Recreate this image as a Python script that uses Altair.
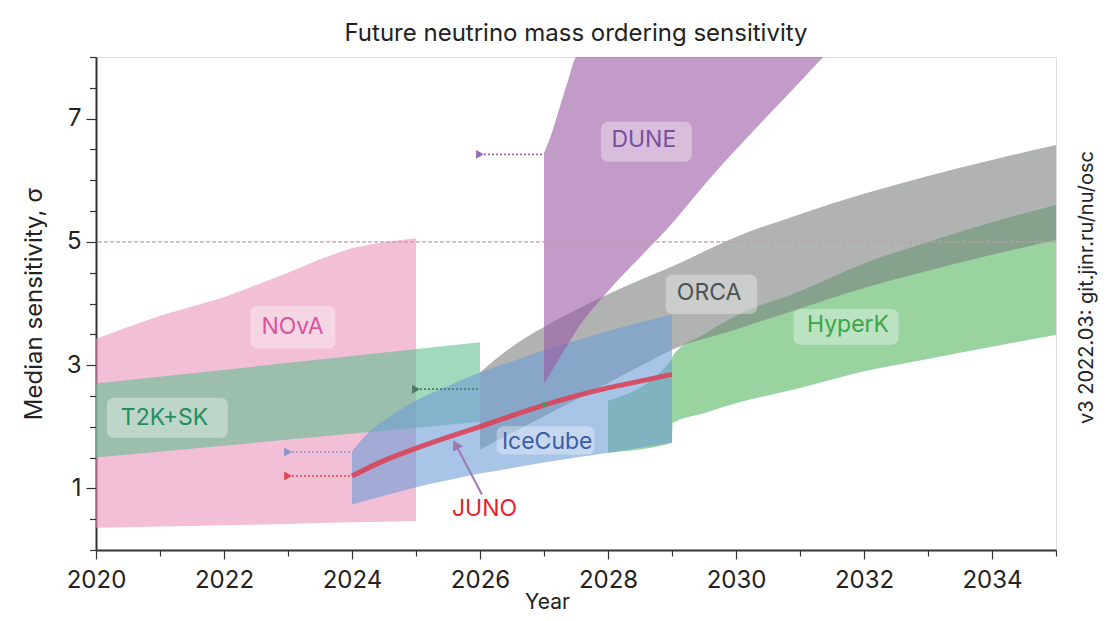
import altair as alt
import pandas as pd

# ---------------- values ----------------
nova_x = [2020, 2020.5, 2021, 2021.5, 2022, 2022.5, 2023, 2023.5, 2024, 2024.5, 2025]
nova_lo = [0.36, 0.37, 0.38, 0.39, 0.40, 0.41, 0.42, 0.44, 0.45, 0.46, 0.47]
nova_hi = [3.43, 3.62, 3.80, 3.95, 4.10, 4.30, 4.50, 4.72, 4.90, 5.00, 5.06]

t2k_x = [2020, 2026]
t2k_lo = [1.50, 2.08]
t2k_hi = [2.70, 3.37]

icecube_x = [2024, 2024.25, 2024.5, 2025, 2025.5, 2026, 2026.5, 2027, 2027.5, 2028, 2028.5, 2029]
icecube_lo = [0.74, 0.81, 0.88, 1.02, 1.13, 1.24, 1.33, 1.42, 1.50, 1.58, 1.66, 1.74]
icecube_hi = [1.60, 1.90, 2.10, 2.42, 2.66, 2.88, 3.06, 3.24, 3.40, 3.55, 3.69, 3.82]

orca_x = [2026, 2026.5, 2027, 2027.5, 2028, 2028.5, 2029, 2030, 2031, 2032, 2033, 2034, 2035]
orca_lo = [1.63, 1.90, 2.17, 2.44, 2.71, 2.98, 3.25, 3.58, 3.92, 4.25, 4.53, 4.79, 5.03]
orca_hi = [2.88, 3.30, 3.62, 3.90, 4.15, 4.38, 4.60, 5.08, 5.45, 5.78, 6.07, 6.33, 6.57]

hyperk_x = [2028, 2029, 2029.01, 2029.5, 2030, 2031, 2032, 2033, 2034, 2035]
hyperk_lo = [1.58, 1.74, 2.06, 2.22, 2.38, 2.63, 2.90, 3.10, 3.30, 3.49]
hyperk_hi = [2.42, 3.10, 3.15, 3.50, 3.80, 4.20, 4.65, 5.00, 5.32, 5.60]

dune_x = [2027.0, 2027.1, 2027.25, 2027.4, 2027.5, 2028.0, 2028.5, 2029.0, 2029.5, 2030.0, 2030.5, 2031.0, 2031.5]
dune_lo = [2.70, 2.87, 3.13, 3.38, 3.55, 4.20, 4.75, 5.30, 5.92, 6.50, 7.05, 7.60, 8.15]
dune_hi = [6.44, 6.70, 7.20, 7.70, 8.00, 8.20, 8.20, 8.20, 8.20, 8.20, 8.20, 8.20, 8.20]

juno_x = [2024, 2024.5, 2025, 2025.5, 2026, 2026.5, 2027, 2027.5, 2028, 2028.5, 2029]
juno_y = [1.20, 1.45, 1.65, 1.83, 2.00, 2.18, 2.35, 2.50, 2.63, 2.74, 2.85]

start_names = ["DUNE", "T2K+SK", "IceCube", "JUNO"]
start_from = [2026, 2025, 2023, 2023]
start_to = [2027, 2026, 2024, 2024]
start_level = [6.42, 2.61, 1.59, 1.20]
start_colors = ["#9a6bb8", "#4d7a68", "#8796cf", "#e0474f"]

label_text = ["NOvA", "T2K+SK", "IceCube", "DUNE", "ORCA", "HyperK"]
label_x = [2023.07, 2021.07, 2027.05, 2028.56, 2029.58, 2031.75]
label_y = [3.62, 2.15, 1.76, 6.65, 4.17, 3.65]
box_x0 = [2022.41, 2020.17, 2026.26, 2027.89, 2028.90, 2030.90]
box_x1 = [2023.74, 2022.06, 2027.79, 2029.31, 2030.33, 2032.54]
box_y0 = [3.27, 1.82, 1.55, 6.30, 3.83, 3.33]
box_y1 = [3.96, 2.47, 2.01, 6.95, 4.47, 3.91]
label_colors = ["#d6569c", "#1f8f5e", "#3b5ca6", "#7a4e9e", "#4e5251", "#37a748"]

juno_label = ["JUNO"]
juno_label_x = [2026.07]
juno_label_y = [0.66]
juno_pointer_tail = [2026.03, 0.90]
juno_pointer_head = [2025.62, 1.71]

marker_x = [2027.0]
marker_y = [2.36]

five_sigma = [5.0]

x_tick_values = [2020, 2020.5, 2021, 2021.5, 2022, 2022.5, 2023, 2023.5, 2024, 2024.5,
                 2025, 2025.5, 2026, 2026.5, 2027, 2027.5, 2028, 2028.5, 2029, 2029.5,
                 2030, 2030.5, 2031, 2031.5, 2032, 2032.5, 2033, 2033.5, 2034, 2034.5, 2035]
y_tick_values = [0, 0.5, 1, 1.5, 2, 2.5, 3, 3.5, 4, 4.5, 5, 5.5, 6, 6.5, 7, 7.5, 8]

FONT = "Inter"
TXT = "#222222"

# ---------------- scales / axes ----------------
xscale = alt.Scale(domain=[2020, 2035], nice=False, zero=False)
yscale = alt.Scale(domain=[0, 8], nice=False, zero=False)

x_axis = alt.Axis(
    values=x_tick_values, format="d",
    labelExpr="datum.value % 2 == 0 ? datum.label : ''",
    tickSize={"condition": {"test": "datum.value % 2 == 0", "value": 9}, "value": 6},
    labelFlush=False, labelOverlap=False, grid=False,
    labelFontSize=24, labelFont=FONT, labelColor=TXT, labelPadding=9,
    title="Year", titleFontSize=21, titleFont=FONT, titleFontWeight="normal", titleColor=TXT,
    titleX=451, titleY=58, titleBaseline="alphabetic", titleAlign="center",
    domainColor="#333333", domainWidth=2, tickColor="#333333", tickWidth=1.2,
)
y_axis = alt.Axis(
    values=y_tick_values,
    labelExpr="datum.value % 2 == 1 ? format(datum.value, 'd') : ''",
    tickSize={"condition": {"test": "datum.value % 2 == 1", "value": 10}, "value": 6.5},
    labelOverlap=False, grid=False,
    labelFontSize=24, labelFont=FONT, labelColor=TXT, labelPadding=5,
    title="Median sensitivity, σ", titleFontSize=24, titleFont=FONT, titleFontWeight="normal",
    titleColor=TXT, titleAngle=270, titleBaseline="alphabetic", titleAlign="center",
    titleX=-55, titleY=246.5,
    domainColor="#333333", domainWidth=2, tickColor="#333333", tickWidth=1.2,
)
right_axis = alt.Axis(
    orient="right", labels=False, ticks=False, domain=False, grid=False,
    title="v3 2022.03: git.jinr.ru/nu/osc", titleFontSize=20, titleFont=FONT,
    titleFontWeight="normal", titleColor=TXT, titleAngle=270, titleBaseline="alphabetic",
    titleAlign="center", titleX=36, titleY=230,
)


def X(field):
    return alt.X(f"{field}:Q", scale=xscale, axis=x_axis, title="Year")


def Y(field, axis=None):
    return alt.Y(f"{field}:Q", scale=yscale, axis=axis)


def band(xs, lo, hi, color, interp, axis=None, opacity=0.6):
    df = pd.DataFrame({"x": xs, "lo": lo, "hi": hi})
    return alt.Chart(df).mark_area(color=color, opacity=opacity, interpolate=interp, clip=True).encode(
        x=X("x"), y=Y("lo", axis), y2="hi:Q"
    )


nova = band(nova_x, nova_lo, nova_hi, "#e994bb", "linear", axis=y_axis)
t2k = band(t2k_x, t2k_lo, t2k_hi, "#61c08f", "linear")
hyperk = band(hyperk_x, hyperk_lo, hyperk_hi, "#55b761", "monotone")
orca = band(orca_x, orca_lo, orca_hi, "#7b807f", "monotone")
icecube = band(icecube_x, icecube_lo, icecube_hi, "#6e9dd5", "monotone")
dune = band(dune_x, dune_lo, dune_hi, "#9b58a3", "monotone")

juno_df = pd.DataFrame({"x": juno_x, "y": juno_y})
juno = alt.Chart(juno_df).mark_line(color="#d9475c", strokeWidth=5, opacity=0.92,
                                    interpolate="monotone", strokeCap="butt").encode(
    x=X("x"), y=Y("y"))

five_df = pd.DataFrame({"y": five_sigma})
five = alt.Chart(five_df).mark_rule(color="#c49aa4", strokeDash=[4, 2], strokeWidth=1.2).encode(
    y=Y("y", right_axis))

start_df = pd.DataFrame({"name": start_names, "x0": start_from, "x1": start_to,
                         "y": start_level, "c": start_colors})
start_lines = alt.Chart(start_df).mark_rule(strokeDash=[2, 2], strokeWidth=1.6).encode(
    x=X("x0"), x2="x1:Q", y=Y("y"), color=alt.Color("c:N", scale=None))
start_tri = alt.Chart(start_df).mark_point(shape="triangle-right", filled=True, size=80, opacity=1).encode(
    x=X("x0"), y=Y("y"), color=alt.Color("c:N", scale=None))

lab_df = pd.DataFrame({"t": label_text, "x": label_x, "y": label_y, "bx0": box_x0, "bx1": box_x1,
                       "by0": box_y0, "by1": box_y1, "c": label_colors})
boxes = alt.Chart(lab_df).mark_rect(color="white", opacity=0.35, cornerRadius=7).encode(
    x=X("bx0"), x2="bx1:Q", y=Y("by0"), y2="by1:Q")
texts = alt.Chart(lab_df).mark_text(font=FONT, fontSize=23, baseline="middle", align="center").encode(
    x=X("x"), y=Y("y"), text="t:N", color=alt.Color("c:N", scale=None))

juno_lab_df = pd.DataFrame({"t": juno_label, "x": juno_label_x, "y": juno_label_y})
juno_text = alt.Chart(juno_lab_df).mark_text(font=FONT, fontSize=23, baseline="middle", align="center",
                                             color="#e8222c").encode(x=X("x"), y=Y("y"), text="t:N")

ptr_df = pd.DataFrame({"x0": [juno_pointer_tail[0]], "y0": [juno_pointer_tail[1]],
                       "x1": [juno_pointer_head[0]], "y1": [juno_pointer_head[1]]})
ptr_line = alt.Chart(ptr_df).mark_rule(color="#9d78b3", strokeWidth=2).encode(
    x=X("x0"), y=Y("y0"), x2="x1:Q", y2="y1:Q")
ptr_head = alt.Chart(ptr_df).mark_point(shape="triangle-up", filled=True, size=130, angle=332,
                                        color="#9d78b3", opacity=1).encode(x=X("x1"), y=Y("y1"))

mk_df = pd.DataFrame({"x": marker_x, "y": marker_y})
marker = alt.Chart(mk_df).mark_point(shape="diamond", filled=True, size=35, color="#3e9b52",
                                     opacity=1).encode(x=X("x"), y=Y("y"))

chart = alt.layer(
    nova, t2k, hyperk, orca, icecube, dune, juno, five, start_lines, start_tri,
    boxes, texts, juno_text, ptr_line, ptr_head, marker,
).resolve_axis(y="independent").properties(
    width=960, height=493,
    title=alt.TitleParams("Future neutrino mass ordering sensitivity", font=FONT, fontSize=24,
                          fontWeight="normal", color=TXT, anchor="middle", frame="group",
                          offset=12, dy=13),
    autosize=alt.AutoSizeParams(type="none"),
    padding={"left": 88, "top": 49, "right": 42, "bottom": 63},
).configure_view(stroke="#333333", strokeWidth=1.5).configure(background="white")

chart.save("out.html", embed_options={"renderer": "svg", "actions": False})
